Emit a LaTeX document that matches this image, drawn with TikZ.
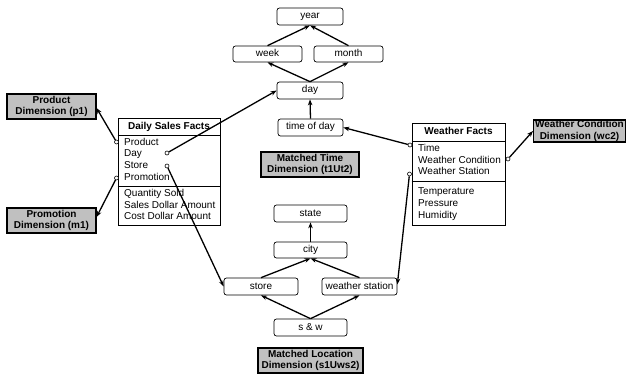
\documentclass[tikz,border=0pt]{standalone}
\usepackage{fontspec}
\setmainfont{Liberation Sans}
\usetikzlibrary{arrows.meta}
\definecolor{dimgray}{RGB}{192,192,192}
\tikzset{
  lvl/.style={draw, rounded corners=2.5pt, line width=0.7pt, inner sep=0pt,
    font=\fontsize{10}{12}\selectfont, text height=7pt, text depth=2pt},
  dimbox/.style={draw, fill=dimgray, line width=1.1pt, inner sep=0pt, align=center,
    font=\fontsize{10}{11.5}\selectfont\bfseries},
  factbox/.style={draw, line width=0.7pt, inner sep=0pt},
  row/.style={anchor=west, inner sep=0pt, font=\fontsize{10}{12}\selectfont,
    text height=7pt, text depth=2pt},
  head/.style={inner sep=0pt, font=\fontsize{10}{12}\selectfont\bfseries,
    text height=7pt, text depth=2pt},
  arr/.style={line width=1.3pt, -{Stealth[length=6pt,width=4.5pt]}},
  port/.style={circle, draw, fill=white, inner sep=0pt, minimum size=4pt, line width=0.6pt}
}
\begin{document}
\begin{tikzpicture}[x=1pt,y=-1pt]
\useasboundingbox (0,0) rectangle (626,374);

% time hierarchy
\node[lvl, minimum width=66pt, minimum height=17pt] (year)  at (310,16.5)  {year};
\node[lvl, minimum width=69pt, minimum height=16pt] (week)  at (267.5,54) {week};
\node[lvl, minimum width=69pt, minimum height=16pt] (month) at (348.5,54) {month};
\node[lvl, minimum width=66pt, minimum height=17pt] (day)   at (310,90.5)  {day};
\node[lvl, minimum width=65pt, minimum height=17pt] (tod)   at (310.5,127.5) {time of day};
\node[dimbox, minimum width=98pt, minimum height=25pt] (tdim) at (310,164.5)
  {Matched Time\\Dimension (t1Ut2)};

% location hierarchy
\node[lvl, minimum width=73pt, minimum height=17pt] (state) at (310.5,213.5) {state};
\node[lvl, minimum width=73pt, minimum height=16pt] (city)  at (310.5,250) {city};
\node[lvl, minimum width=74pt, minimum height=17pt] (store) at (261,286.5) {store};
\node[lvl, minimum width=75pt, minimum height=17pt] (wst)   at (359.5,286.5) {weather station};
\node[lvl, minimum width=73pt, minimum height=17pt] (sw)    at (310.5,327.5) {s \& w};
\node[dimbox, minimum width=105pt, minimum height=25pt] (ldim) at (310.5,360.5)
  {Matched Location\\Dimension (s1Uws2)};

% other dimensions
\node[dimbox, minimum width=89pt, minimum height=25pt] (p1) at (51.5,106.5) {Product\\Dimension (p1)};
\node[dimbox, minimum width=89pt, minimum height=25pt] (m1) at (51.5,220.5) {Promotion\\Dimension (m1)};
\node[dimbox, minimum width=92pt, minimum height=22pt] (wc2) at (579.5,131) {Weather Condition\\Dimension (wc2)};

% Daily Sales Facts table
\node[factbox, minimum width=102pt, minimum height=107pt] (dsf) at (169,171.5) {};
\draw[line width=0.7pt] (dsf.west |- 0,135) coordinate (dsfa) -- (dsf.east |- dsfa);
\draw[line width=0.7pt] (dsf.west |- 0,186.5) coordinate (dsfb) -- (dsf.east |- dsfb);
\node[head] (dsfh) at (169,127) {Daily Sales Facts};
\node[row] (dprod)  at (124,142.7) {Product};
\node[row] (dday)   at (124,154.3) {Day};
\node[row] (dstore) at (124,166.2) {Store};
\node[row] (dpromo) at (124,178.2) {Promotion};
\node[row] (dqty)   at (124,194) {Quantity Sold};
\node[row] (dsales) at (124,205.6) {Sales Dollar Amount};
\node[row] (dcost)  at (124,216.5) {Cost Dollar Amount};

% Weather Facts table
\node[factbox, minimum width=93pt, minimum height=102.5pt] (wf) at (458.5,174.25) {};
\draw[line width=0.7pt] (wf.west |- 0,141) coordinate (wfa) -- (wf.east |- wfa);
\draw[line width=0.7pt] (wf.west |- 0,181) coordinate (wfb) -- (wf.east |- wfb);
\node[head] (wfh) at (458.5,132.5) {Weather Facts};
\node[row] (wtime) at (418,149) {Time};
\node[row] (wcond) at (418,160.8) {Weather Condition};
\node[row] (wstat) at (418,172.5) {Weather Station};
\node[row] (wtemp) at (418,191.5) {Temperature};
\node[row] (wpres) at (418,204) {Pressure};
\node[row] (whum)  at (418,215.7) {Humidity};

% hierarchy arrows
\draw[arr] (week.north)  -- (year.south);
\draw[arr] (month.north) -- (year.south);
\draw[arr] (day.north)   -- (week.south);
\draw[arr] (day.north)   -- (month.south);
\draw[arr] (tod.north)   -- (day.south);
\draw[arr] (city.north)  -- (state.south);
\draw[arr] (store.north) -- (city.south);
\draw[arr] (wst.north)   -- (city.south);
\draw[arr] (sw.north)    -- (store.south);
\draw[arr] (sw.north)    -- (wst.south);

% foreign key ports
\node[port] (pprod)  at (116.5,142) {};
\node[port] (ppromo) at (116.5,178) {};
\node[port] (pday)   at (167,153) {};
\node[port] (pstore) at (167,166) {};
\node[port] (ptime)  at (410,145) {};
\node[port] (pcond)  at (508,159) {};
\node[port] (pstat)  at (409.5,174) {};

% foreign key references
\draw[arr] (pprod)  -- ([yshift=-1.5pt]p1.east);
\draw[arr] (ppromo) -- ([yshift=3.5pt]m1.east);
\draw[arr] (pday)   -- (day.west);
\draw[arr] (pstore) -- (store.west);
\draw[arr] (ptime)  -- (tod.east);
\draw[arr] (pcond)  -- (wc2.west);
\draw[arr] (pstat)  -- ([yshift=2pt]wst.east);
\end{tikzpicture}
\end{document}
